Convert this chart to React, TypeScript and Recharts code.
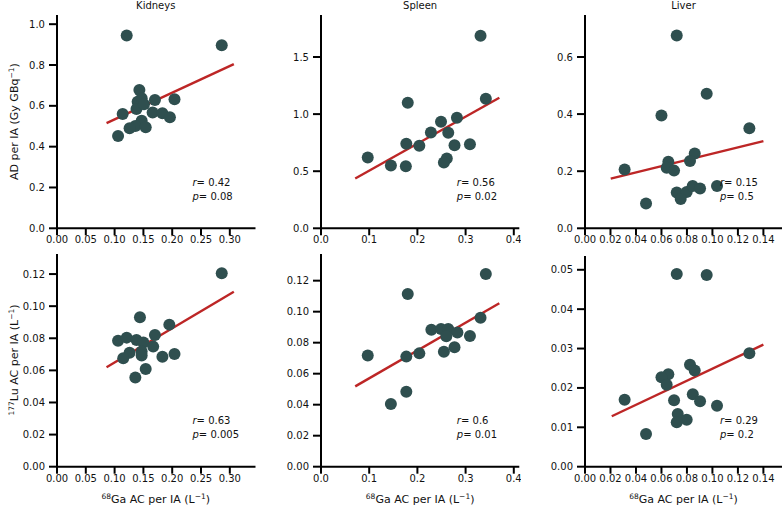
import React from 'react';
import { ComposedChart, Scatter, XAxis, YAxis, ReferenceLine } from 'recharts';

type Pt = { x: number; y: number };
const pts = (a: number[][]): Pt[] => a.map(([x, y]) => ({ x, y }));

// ---- data ----
const kidneysAD = pts([
  [0.121, 0.944], [0.286, 0.897], [0.143, 0.678], [0.140, 0.620], [0.147, 0.637], [0.138, 0.585],
  [0.151, 0.608], [0.170, 0.629], [0.204, 0.632], [0.114, 0.560], [0.166, 0.567], [0.183, 0.564],
  [0.196, 0.544], [0.147, 0.527], [0.136, 0.501], [0.126, 0.490], [0.154, 0.495], [0.106, 0.452],
]);
const kidneysADFit = pts([[0.086, 0.515], [0.307, 0.804]]);

const spleenAD = pts([
  [0.331, 1.687], [0.342, 1.134], [0.180, 1.10], [0.282, 0.968], [0.249, 0.933], [0.228, 0.839],
  [0.264, 0.836], [0.177, 0.74], [0.204, 0.722], [0.277, 0.728], [0.309, 0.737], [0.097, 0.62],
  [0.261, 0.611], [0.255, 0.576], [0.145, 0.55], [0.176, 0.544],
]);
const spleenADFit = pts([[0.071, 0.436], [0.370, 1.143]]);

const liverAD = pts([
  [0.072, 0.675], [0.0955, 0.471], [0.060, 0.395], [0.129, 0.35], [0.0861, 0.262], [0.0824, 0.236],
  [0.0654, 0.233], [0.0641, 0.212], [0.0699, 0.202], [0.0311, 0.206], [0.072, 0.125], [0.0798, 0.127],
  [0.0845, 0.148], [0.0903, 0.139], [0.1036, 0.148], [0.0751, 0.103], [0.0479, 0.0866],
]);
const liverADFit = pts([[0.0202, 0.174], [0.14, 0.305]]);

const kidneysLu = pts([
  [0.286, 0.1205], [0.144, 0.0931], [0.195, 0.0885], [0.170, 0.0821], [0.106, 0.0785], [0.121, 0.0804],
  [0.138, 0.0789], [0.150, 0.0773], [0.167, 0.0748], [0.126, 0.0710], [0.115, 0.0675], [0.147, 0.0717],
  [0.147, 0.0692], [0.183, 0.0685], [0.204, 0.0702], [0.154, 0.0609], [0.136, 0.0555],
]);
const kidneysLuFit = pts([[0.086, 0.0619], [0.307, 0.109]]);

const spleenLu = pts([
  [0.342, 0.1243], [0.180, 0.1114], [0.331, 0.0961], [0.229, 0.0884], [0.249, 0.0888], [0.264, 0.0888],
  [0.283, 0.0865], [0.260, 0.0841], [0.309, 0.0843], [0.204, 0.0731], [0.255, 0.0742], [0.277, 0.077],
  [0.097, 0.0718], [0.177, 0.071], [0.177, 0.0484], [0.145, 0.0404],
]);
const spleenLuFit = pts([[0.071, 0.0518], [0.370, 0.1054]]);

const liverLu = pts([
  [0.072, 0.0489], [0.0955, 0.0487], [0.129, 0.0288], [0.0824, 0.0259], [0.0861, 0.0244], [0.0654, 0.0235],
  [0.060, 0.0227], [0.0641, 0.0208], [0.0846, 0.0184], [0.0311, 0.017], [0.0699, 0.0169], [0.0903, 0.0166],
  [0.1036, 0.0155], [0.0728, 0.0134], [0.0798, 0.0119], [0.072, 0.0113], [0.0479, 0.0083],
]);
const liverLuFit = pts([[0.021, 0.0128], [0.14, 0.031]]);

// ---- ticks ----
const kidneysXTicks = [0, 0.05, 0.1, 0.15, 0.2, 0.25, 0.3];
const spleenXTicks = [0, 0.1, 0.2, 0.3, 0.4];
const liverXTicks = [0, 0.02, 0.04, 0.06, 0.08, 0.1, 0.12, 0.14];
const kidneysADYTicks = [0, 0.2, 0.4, 0.6, 0.8, 1.0];
const spleenADYTicks = [0, 0.5, 1.0, 1.5];
const liverADYTicks = [0, 0.2, 0.4, 0.6];
const luYTicks = [0, 0.02, 0.04, 0.06, 0.08, 0.1, 0.12];
const liverLuYTicks = [0, 0.01, 0.02, 0.03, 0.04, 0.05];

const titles = ['Kidneys', 'Spleen', 'Liver'];
const rValsAD = ['0.42', '0.56', '0.15'];
const pValsAD = ['0.08', '0.02', '0.5'];
const rValsLu = ['0.63', '0.6', '0.29'];
const pValsLu = ['0.005', '0.01', '0.2'];

const DOT = '#2f4f4f';
const RED = '#bd2626';
const FONT = 'DejaVu Sans';

function Dot(props: any) {
  const { cx, cy } = props;
  if (cx == null || cy == null) return null;
  return <circle cx={cx} cy={cy} r={6} fill={DOT} />;
}

type PanelProps = {
  left: number; right: number; top: number; bottom: number;
  xMax: number; yMax: number; xTicks: number[]; yTicks: number[];
  xDec: number; yDec: number; points: Pt[]; fit: Pt[];
};

function Panel(p: PanelProps) {
  const YW = 50, XH = 30, MT = 8, MR = 2;
  const width = p.right - p.left + YW + MR;
  const height = p.bottom - p.top + XH + MT;
  const tickStyle = { fill: '#111', fontSize: 10, fontFamily: FONT };
  return (
    <div style={{ position: 'absolute', left: p.left - YW, top: p.top - MT }}>
      <ComposedChart width={width} height={height} margin={{ top: MT, right: MR, bottom: 0, left: 0 }}>
        <XAxis
          type="number" dataKey="x" domain={[0, p.xMax]} ticks={p.xTicks} allowDataOverflow interval={0}
          height={XH} tickFormatter={(v: number) => v.toFixed(p.xDec)} tick={tickStyle}
          tickSize={7} tickMargin={1} axisLine={{ stroke: '#000', strokeWidth: 2 }}
          tickLine={{ stroke: '#000', strokeWidth: 2 }}
        />
        <YAxis
          type="number" dataKey="y" domain={[0, p.yMax]} ticks={p.yTicks} allowDataOverflow interval={0}
          width={YW} tickFormatter={(v: number) => v.toFixed(p.yDec)} tick={tickStyle}
          tickSize={8} tickMargin={4} axisLine={{ stroke: '#000', strokeWidth: 2 }}
          tickLine={{ stroke: '#000', strokeWidth: 2 }}
        />
        <Scatter data={p.points} dataKey="y" shape={Dot} isAnimationActive={false} />
        <ReferenceLine segment={p.fit} stroke={RED} strokeWidth={2.4} ifOverflow="visible" />
      </ComposedChart>
    </div>
  );
}

const cols = [
  { left: 56.5, right: 255, xMax: 0.3446, xTicks: kidneysXTicks, xDec: 2 },
  { left: 321, right: 519.3, xMax: 0.4114, xTicks: spleenXTicks, xDec: 1 },
  { left: 585, right: 782, xMax: 0.1546, xTicks: liverXTicks, xDec: 2 },
];

export default function App() {
  const centers = cols.map((c) => (c.left + c.right) / 2);
  const annX = cols.map((c) => c.left + (c.right - c.left) * 0.685);
  return (
    <div style={{ position: 'fixed', left: 0, top: 0, width: 784, height: 510, background: '#fff', overflow: 'hidden' }}>
      <Panel {...cols[0]} top={15} bottom={228.3} yMax={1.045} yTicks={kidneysADYTicks} yDec={1} points={kidneysAD} fit={kidneysADFit} />
      <Panel {...cols[1]} top={15} bottom={228.3} yMax={1.868} yTicks={spleenADYTicks} yDec={1} points={spleenAD} fit={spleenADFit} />
      <Panel {...cols[2]} top={15} bottom={228.3} yMax={0.747} yTicks={liverADYTicks} yDec={1} points={liverAD} fit={liverADFit} />
      <Panel {...cols[0]} top={254} bottom={466.7} yMax={0.1325} yTicks={luYTicks} yDec={2} points={kidneysLu} fit={kidneysLuFit} />
      <Panel {...cols[1]} top={254} bottom={466.7} yMax={0.1372} yTicks={luYTicks} yDec={2} points={spleenLu} fit={spleenLuFit} />
      <Panel {...cols[2]} top={256} bottom={466.7} yMax={0.0535} yTicks={liverLuYTicks} yDec={2} points={liverLu} fit={liverLuFit} />
      <svg width={784} height={510} style={{ position: 'absolute', left: 0, top: 0, pointerEvents: 'none' }}
        fontFamily={FONT} fontSize={10} fill="#111">
        {titles.map((t, i) => (
          <text key={t} x={centers[i]} y={9} textAnchor="middle">{t}</text>
        ))}
        {annX.map((x, i) => (
          <g key={'a' + i}>
            <text x={x} y={186}><tspan fontStyle="italic">r</tspan>= {rValsAD[i]}</text>
            <text x={x} y={200}><tspan fontStyle="italic">p</tspan>= {pValsAD[i]}</text>
            <text x={x} y={424}><tspan fontStyle="italic">r</tspan>= {rValsLu[i]}</text>
            <text x={x} y={438}><tspan fontStyle="italic">p</tspan>= {pValsLu[i]}</text>
          </g>
        ))}
        <text transform="translate(18,121.6) rotate(-90)" textAnchor="middle" fontSize={11}>
          AD per IA (Gy GBq<tspan dy={-4.5} fontSize={7.5}>−1</tspan><tspan dy={4.5}>)</tspan>
        </text>
        <text transform="translate(18,360) rotate(-90)" textAnchor="middle" fontSize={11}>
          <tspan dy={-4.5} fontSize={7.5}>177</tspan><tspan dy={4.5}>Lu AC per IA (L</tspan><tspan dy={-4.5} fontSize={7.5}>−1</tspan><tspan dy={4.5}>)</tspan>
        </text>
        {centers.map((cx, i) => (
          <text key={'xl' + i} x={cx} y={503} textAnchor="middle" fontSize={11}>
            <tspan dy={-4.5} fontSize={7.5}>68</tspan><tspan dy={4.5}>Ga AC per IA (L</tspan><tspan dy={-4.5} fontSize={7.5}>−1</tspan><tspan dy={4.5}>)</tspan>
          </text>
        ))}
      </svg>
    </div>
  );
}
